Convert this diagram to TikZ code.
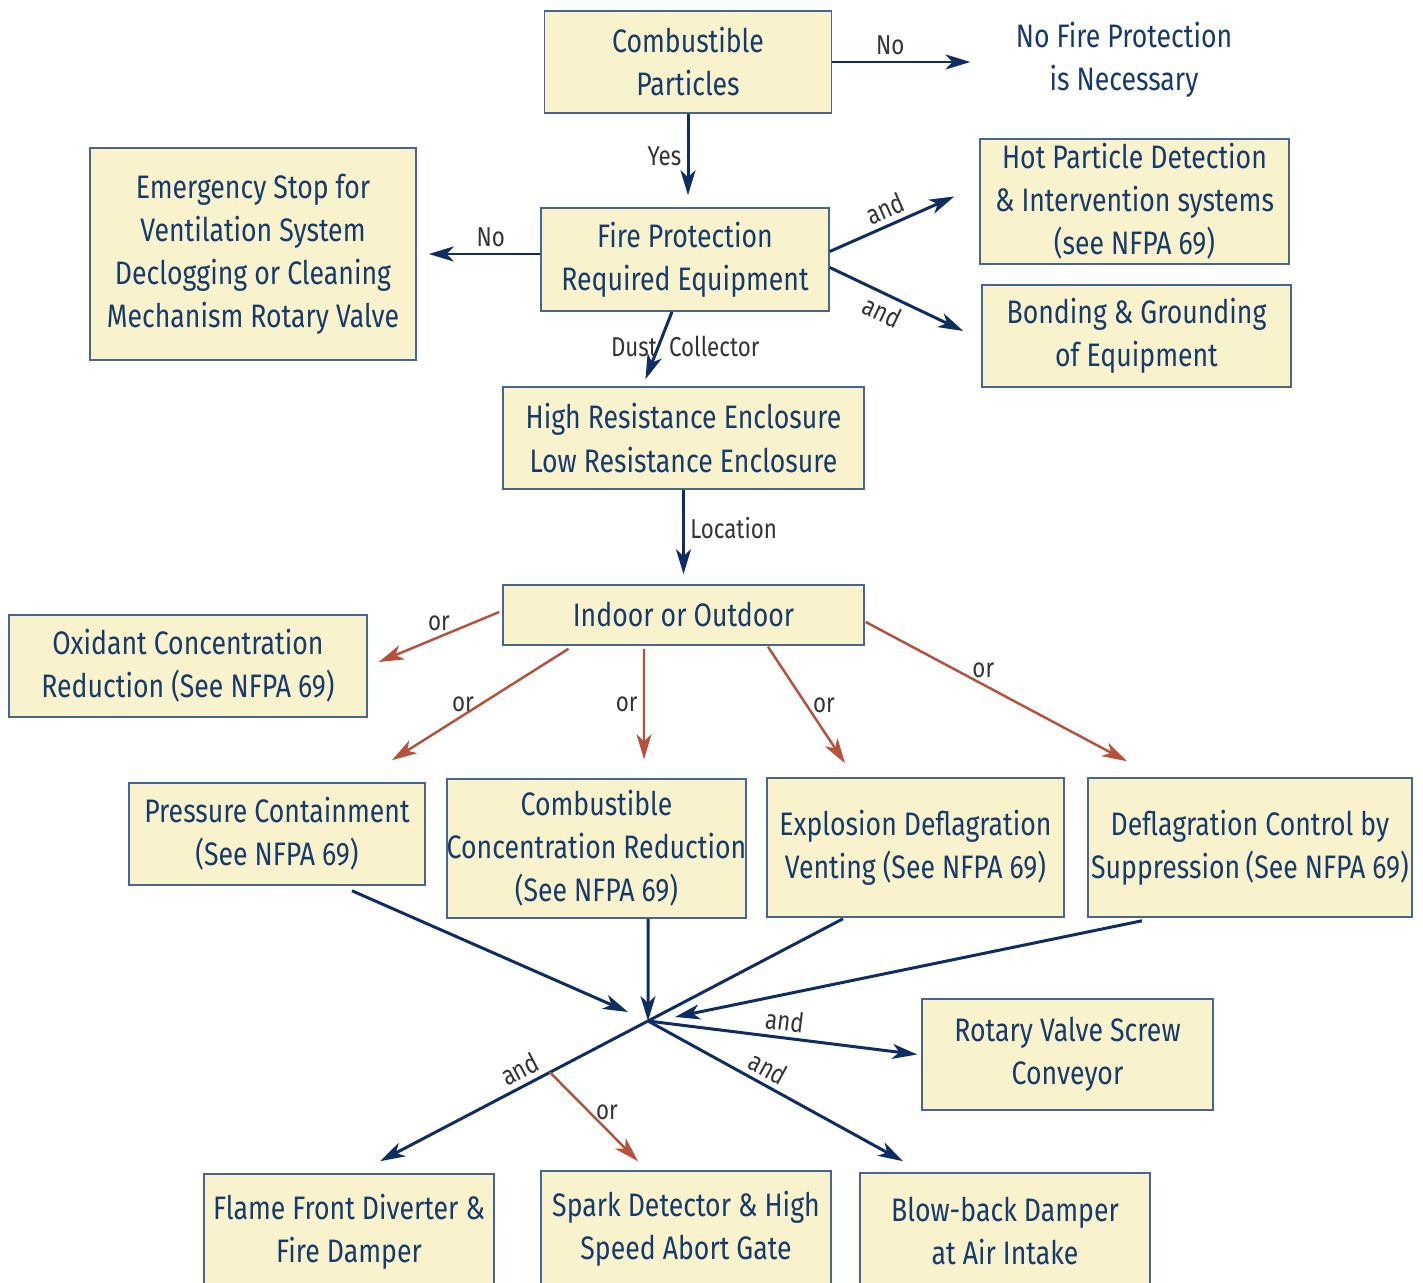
\documentclass[tikz,border=0pt]{standalone}
\usepackage{fontspec}
\setmainfont{Fira Sans}[FakeStretch=0.82]
\usetikzlibrary{calc,arrows.meta}
\definecolor{boxfill}{HTML}{F8F2CD}
\definecolor{boxline}{HTML}{4A6490}
\definecolor{boxtext}{HTML}{173A6C}
\definecolor{navy}{HTML}{0D2D63}
\definecolor{rust}{HTML}{B6513E}
\definecolor{lblgrey}{HTML}{333333}
\def\ybox{\node[box]}

\begin{document}
\begin{tikzpicture}[x=0.02cm,y=-0.02cm,
  box/.style={draw=boxline,line width=0.9pt,fill=boxfill,text=boxtext,align=center,
    inner sep=0pt,font=\fontsize{18.5}{24.5}\selectfont},
  lbl/.style={text=lblgrey,font=\fontsize{15.5}{17}\selectfont,inner sep=3pt},
  navyarrow/.style={draw=navy,line width=1.7pt,-{Stealth[length=0.5cm,width=0.3cm,inset=0.14cm]}},
  navyline/.style={draw=navy,line width=1.7pt},
  rustarrow/.style={draw=rust,line width=1.4pt,-{Stealth[length=0.5cm,width=0.3cm,inset=0.14cm]}}]
\useasboundingbox (0,0) rectangle (1423,1283);
\fill[white] (0,0) rectangle (1423,1283);
\clip (0,0) rectangle (1423,1283);

% top of the chart
\ybox[minimum width=5.74cm,minimum height=2.04cm] (comb) at (688,62) {Combustible\\Particles};
\node[text=boxtext,align=center,inner xsep=0.9cm,font=\fontsize{18.5}{24.5}\selectfont] (nofire) at (1124,60) {No Fire Protection\\is Necessary};
\ybox[minimum width=5.76cm,minimum height=2.06cm] (fireq) at (685,259.5) {Fire Protection\\Required Equipment};
\ybox[minimum width=6.52cm,minimum height=4.24cm] (estop) at (253,254) {Emergency Stop for\\Ventilation System\\Declogging or Cleaning\\Mechanism Rotary Valve};
\ybox[minimum width=6.18cm,minimum height=2.5cm] (hot) at (1134.5,201.5) {Hot Particle Detection\\\& Intervention systems\\(see NFPA 69)};
\ybox[minimum width=6.18cm,minimum height=2.04cm] (bond) at (1136.5,336) {Bonding \& Grounding\\of Equipment};
\ybox[minimum width=7.22cm,minimum height=2.04cm] (enc) at (683.5,438) {High Resistance Enclosure\\Low Resistance Enclosure};
\ybox[minimum width=7.22cm,minimum height=1.2cm] (indoor) at (683.5,615) {Indoor or Outdoor};

% protection options
\ybox[minimum width=7.16cm,minimum height=2.04cm] (oxid) at (188,666) {Oxidant Concentration\\Reduction (See NFPA 69)};
\ybox[minimum width=5.92cm,minimum height=2.04cm] (press) at (277,834) {Pressure Containment\\(See NFPA 69)};
\ybox[minimum width=5.94cm,minimum height=2.78cm] (combconc) at (596.5,848.5) {Combustible\\Concentration Reduction\\(See NFPA 69)};
\ybox[minimum width=5.94cm,minimum height=2.78cm] (explo) at (915.5,847.5) {Explosion Deflagration\\Venting (See NFPA 69)};
\ybox[minimum width=6.48cm,minimum height=2.78cm] (defl) at (1250,847.5) {Deflagration Control by\\Suppression\,(See NFPA 69)};

% isolation devices
\coordinate (hub) at (648,1021);
\ybox[minimum width=5.82cm,minimum height=2.22cm] (rotary) at (1067.5,1054.5) {Rotary Valve Screw\\Conveyor};
\ybox[minimum width=5.8cm,minimum height=2.32cm] (flame) at (349,1232) {Flame Front Diverter \&\\Fire Damper};
\ybox[minimum width=5.8cm,minimum height=2.32cm] (spark) at (686,1229) {Spark Detector \& High\\Speed Abort Gate};
\ybox[minimum width=5.8cm,minimum height=2.32cm] (blow) at (1005,1231) {Blow-back Damper\\at Air Intake};

% decisions
\draw[navyarrow] (comb.east) -- node[lbl,above,pos=0.42] {No} (comb.east -| nofire.west);
\draw[navyarrow,shorten >=0.24cm] (comb.south) -- node[lbl,left,pos=0.45] {Yes} (comb.south |- fireq.north);
\draw[navyarrow,shorten >=0.24cm] (fireq.west |- estop.east) -- node[lbl,above,pos=0.4] {No} (estop.east);
\draw[navyarrow] ($(fireq.east)+(0,-8)$) -- node[lbl,above,sloped] {and} ($(hot.west)+(-25,-5)$);
\draw[navyarrow] ($(fireq.east)+(0,8)$) -- node[lbl,below,sloped,pos=0.45] {and} ($(bond.west)+(-18,-5)$);
\draw[navyarrow] ($(fireq.south)+(-13,0)$) -- node[lbl,pos=0.52,xshift=0.54cm] {Dust\hspace{0.45em}Collector} ($(enc.north)+(-38,-7)$);
\draw[navyarrow,shorten >=0.2cm] (enc.south) -- node[lbl,right,pos=0.4] {Location} (indoor.north);

% either one of these
\draw[rustarrow] ($(indoor.west)+(-3,-3)$) -- node[lbl,above] {or} ($(oxid.east)+(11,-4)$);
\draw[rustarrow] ($(indoor.south)+(-115,3)$) -- node[lbl,left] {or} ($(press.north)+(115,-22)$);
\draw[rustarrow] ($(indoor.south)+(-39.5,3)$) -- node[lbl,left] {or} ($(combconc.north)+(47.5,-19)$);
\draw[rustarrow] ($(indoor.south)+(84.5,1)$) -- node[lbl,right] {or} ($(explo.north)+(-70.5,-14)$);
\draw[rustarrow] ($(indoor.east)+(1,7)$) -- node[lbl,above,pos=0.45] {or} ($(defl.north)+(-123,-16)$);

% into the hub
\draw[navyarrow] ($(press.south)+(75,5)$) -- ($(hub)+(-20,-9)$);
\draw[navyarrow] ($(combconc.south)+(51.5,0)$) -- (hub);
\draw[navyarrow] ($(defl.south)+(-108,3)$) -- ($(hub)+(27,-4)$);
\draw[navyline] ($(explo.south)+(-72.5,1)$) -- (hub);

% out of the hub
\coordinate (flameend) at ($(flame.north)+(31,-12)$);
\coordinate (branch) at ($(hub)!0.366!(flameend)$);
\draw[navyarrow] (hub) -- node[lbl,above,sloped,pos=0.45] {and} (flameend);
\draw[navyarrow] (hub) -- node[lbl,above,sloped] {and} ($(rotary.west)+(-4,0)$);
\draw[navyarrow] (hub) -- node[lbl,above,sloped,pos=0.44] {and} ($(blow.north)+(-102,-11)$);
\draw[rustarrow] (branch) -- node[lbl,right,pos=0.45] {or} ($(spark.north)+(-48,-9)$);
\end{tikzpicture}
\end{document}
